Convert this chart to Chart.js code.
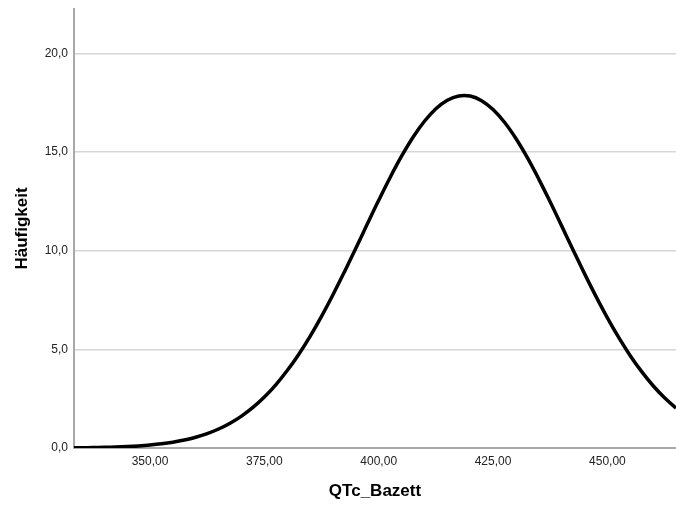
<!DOCTYPE html>
<html>
<head>
<meta charset="utf-8">
<script src="https://cdn.jsdelivr.net/npm/chart.js@4/dist/chart.umd.min.js"></script>
<style>
  html, body { margin: 0; padding: 0; background: #ffffff; }
  #wrap { width: 676px; height: 508px; position: relative; }
</style>
</head>
<body>
<div id="wrap"><canvas id="c" width="676" height="508"></canvas></div>
<script>
// QTc_Bazett values (ms) along the fitted normal curve
const qtcValues = [
  332.5, 335, 337.5, 340, 342.5, 345, 347.5, 350, 352.5, 355, 357.5, 360,
  362.5, 365, 367.5, 370, 372.5, 375, 377.5, 380, 382.5, 385, 387.5, 390,
  392.5, 395, 397.5, 400, 402.5, 405, 407.5, 410, 412.5, 415, 417.5, 420,
  422.5, 425, 427.5, 430, 432.5, 435, 437.5, 440, 442.5, 445, 447.5, 450,
  452.5, 455, 457.5, 460, 462.5, 465, 467.5
];
// Frequency (Häufigkeit) of the normal curve at each QTc value
const frequency = [
  0.010, 0.015, 0.022, 0.034, 0.050, 0.073, 0.105, 0.150, 0.211, 0.293, 0.402, 0.545,
  0.728, 0.963, 1.256, 1.618, 2.057, 2.584, 3.204, 3.925, 4.743, 5.661, 6.673, 7.766,
  8.925, 10.127, 11.348, 12.552, 13.712, 14.788, 15.749, 16.560, 17.197, 17.629, 17.845, 17.837,
  17.605, 17.155, 16.509, 15.684, 14.714, 13.630, 12.466, 11.258, 10.039, 8.839, 7.686, 6.598,
  5.592, 4.680, 3.868, 3.156, 2.543, 2.023, 1.589
];
// Axis ranges and tick values
const xRange = [333.38, 465.0];
const xTicks = [350, 375, 400, 425, 450];
const yRange = [0, 22.25];
const yTicks = [0, 5, 10, 15, 20];

const points = qtcValues.map((x, i) => ({ x: x, y: frequency[i] }));
const deComma = (v, d) => v.toFixed(d).replace('.', ',');
const FONT = 'Arial, "Liberation Sans", sans-serif';

new Chart(document.getElementById('c'), {
  type: 'line',
  data: {
    datasets: [{
      data: points,
      borderColor: '#000000',
      borderWidth: 3.5,
      pointRadius: 0,
      fill: false,
      tension: 0.4
    }]
  },
  options: {
    responsive: false,
    animation: false,
    devicePixelRatio: 1,
    layout: { padding: 0 },
    plugins: { legend: { display: false }, tooltip: { enabled: false } },
    scales: {
      x: {
        type: 'linear',
        min: xRange[0],
        max: xRange[1],
        afterBuildTicks: (s) => { s.ticks = xTicks.map(v => ({ value: v })); },
        afterFit: (s) => { s.height = 60; s.paddingLeft = 0; s.paddingRight = 0; },
        ticks: {
          padding: 6,
          color: '#222222',
          font: { family: FONT, size: 12 },
          maxRotation: 0,
          autoSkip: false,
          callback: (v) => deComma(v, 2)
        },
        grid: { display: false, drawTicks: false },
        border: { display: true, color: '#a8a8a8', width: 2 },
        title: {
          display: true,
          text: 'QTc_Bazett',
          color: '#000000',
          font: { family: FONT, size: 17, weight: 'bold' },
          padding: { top: 0, bottom: 6 }
        }
      },
      y: {
        type: 'linear',
        min: yRange[0],
        max: yRange[1],
        afterBuildTicks: (s) => { s.ticks = yTicks.map(v => ({ value: v })); },
        afterFit: (s) => { s.width = 74; s.paddingTop = 9; s.paddingBottom = 0; },
        ticks: {
          padding: 6,
          color: '#222222',
          font: { family: FONT, size: 12 },
          callback: (v) => deComma(v, 1)
        },
        grid: {
          color: '#d6d6d6',
          lineWidth: 1.5,
          drawTicks: false
        },
        border: { display: true, color: '#a8a8a8', width: 2 },
        title: {
          display: true,
          text: 'Häufigkeit',
          color: '#000000',
          font: { family: FONT, size: 17, weight: 'bold' },
          padding: { top: 12, bottom: 0 }
        }
      }
    }
  }
});
</script>
</body>
</html>
